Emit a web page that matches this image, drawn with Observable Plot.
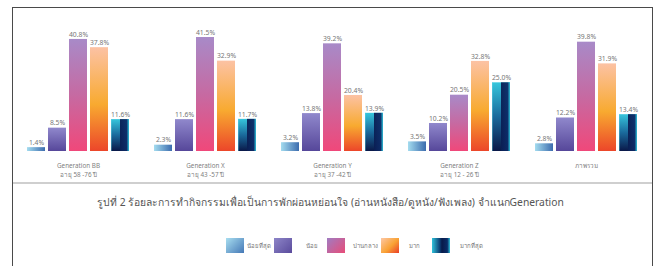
<!DOCTYPE html>
<html>
<head>
<meta charset="utf-8">
<script src="https://cdn.jsdelivr.net/npm/d3@7"></script>
<script src="https://cdn.jsdelivr.net/npm/@observablehq/plot@0.6"></script>
<style>
  html, body { margin: 0; padding: 0; background: #fff; }
  #wrap { position: relative; width: 661px; height: 266px; overflow: hidden; font-family: "Noto Sans", "Open Sans", sans-serif; }
  #frame { position: absolute; left: 12px; top: 7px; width: 641px; height: 270px; border: 1.5px solid #4a4a4a; box-sizing: border-box; }
  #sep { position: absolute; left: 13px; top: 182px; width: 639px; height: 2px; background: #cfcfcf; }
  #title { position: absolute; left: 0; width: 661px; top: 194px; text-align: center; font-size: 10.3px; color: #555; white-space: nowrap; }
  #legend { position: absolute; top: 238px; left: 0; width: 661px; height: 16px; }
  .sw { position: absolute; top: 0; width: 18px; height: 15px; }
  .lb { position: absolute; top: 3px; font-size: 6px; color: #777; white-space: nowrap; }
  #chart { position: absolute; left: 0; top: 0; }
</style>
</head>
<body>
<div id="wrap">
  <div id="chart"></div>
  <div id="frame"></div>
  <div id="sep"></div>
  <div id="title"></div>
  <div id="legend"></div>
</div>
<script>
// ---- data ----
const generations = ["Generation BB", "Generation X", "Generation Y", "Generation Z", "ภาพรวม"];
const ageLabels = ["อายุ 58 -76 ปี", "อายุ 43 -57 ปี", "อายุ 37 -42 ปี", "อายุ 12 - 26 ปี", ""];
const levels = ["น้อยที่สุด", "น้อย", "ปานกลาง", "มาก", "มากที่สุด"];
const leastVals = [1.4, 2.3, 3.2, 3.5, 2.8];
const lowVals = [8.5, 11.6, 13.8, 10.2, 12.2];
const midVals = [40.8, 41.5, 39.2, 20.5, 39.8];
const highVals = [37.8, 32.9, 20.4, 32.8, 31.9];
const mostVals = [11.6, 11.7, 13.9, 25.0, 13.4];
const titleText = "รูปที่ 2 ร้อยละการทำกิจกรรมเพื่อเป็นการพักผ่อนหย่อนใจ (อ่านหนังสือ/ดูหนัง/ฟังเพลง) จำแนกGeneration";

const seriesVals = [leastVals, lowVals, midVals, highVals, mostVals];
const rows = [];
generations.forEach((g, gi) => {
  levels.forEach((l, li) => rows.push({gen: g, level: l, li, value: seriesVals[li][gi]}));
});
const catRows = generations.map((g, i) => ({gen: g, label: ageLabels[i] ? g + "\n" + ageLabels[i] : g}));

// gradient definitions
const gradIds = ["g0", "g1", "g2", "g3", "g4"];
function defs() {
  const d = d3.create("svg:defs");
  const lin = (id, x2, y2, stops) => {
    const g = d.append("linearGradient").attr("id", id).attr("x1", 0).attr("y1", 0).attr("x2", x2).attr("y2", y2);
    stops.forEach(([o, c, a]) => g.append("stop").attr("offset", o).attr("stop-color", c).attr("stop-opacity", a == null ? 1 : a));
  };
  lin("g0", 1, 0, [[0, "#a4dcef"], [1, "#3c6cae"]]);
  lin("g1", 0, 1, [[0, "#9088cc"], [1, "#56479a"]]);
  lin("g2", 0, 1, [[0, "#a88ac8"], [0.5, "#c66aa2"], [1, "#f0487a"]]);
  lin("g3", 0, 1, [[0, "#fcc2a4"], [0.55, "#f8aa30"], [1, "#ec462a"]]);
  lin("g4", 0, 1, [[0, "#36c6dc"], [0.5, "#1a6a9c"], [1, "#0a1848"]]);
  lin("g4b", 1, 0, [[0, "#7fe0ee", 0.6], [0.08, "#36c6dc", 0], [0.5, "#0a1f55", 0], [0.52, "#0a1f55", 0.95], [0.86, "#0d2a66", 0.95], [1, "#2ec2da", 1]]);
  return d.node();
}

const chart = Plot.plot({
  width: 661,
  height: 183,
  marginLeft: 23,
  marginRight: 20,
  marginTop: 27.4,
  marginBottom: 32,
  fx: {domain: generations, padding: 0.134, paddingOuter: 0, axis: null},
  x: {domain: levels, padding: 0.14, axis: null},
  y: {domain: [0, 45], axis: null},
  style: {fontFamily: "'Noto Sans', 'Open Sans', sans-serif", background: "transparent"},
  marks: [
    defs,
    Plot.barY(rows, {fx: "gen", x: "level", y: "value", fill: d => `url(#${gradIds[d.li]})`}),
    Plot.barY(rows.filter(d => d.li === 4), {fx: "gen", x: "level", y: "value", fill: "url(#g4b)"}),
    Plot.text(rows, {fx: "gen", x: "level", y: "value", text: d => d.value.toFixed(1) + "%", dy: -5, fontSize: 6.8, fill: "#777"}),
    Plot.text(catRows, {fx: "gen", text: "label", frameAnchor: "bottom", lineAnchor: "top", dy: 10, lineHeight: 1.45, fontSize: 6.3, fill: "#808080"})
  ]
});
document.getElementById("chart").appendChild(chart);

document.getElementById("title").textContent = titleText;

// legend
const legendSwatchX = [226, 274, 327, 381, 432];
const legendLabelX = [247, 306, 353, 409, 460];
const cssGrad = [
  "linear-gradient(135deg, #a8def0, #4578b6)",
  "linear-gradient(135deg, #8d85c8, #5a4b9c)",
  "linear-gradient(135deg, #a07cc2, #e84c78)",
  "linear-gradient(135deg, #fdc8a6, #f9a234 55%, #ea3e28)",
  "linear-gradient(90deg, #2ec2da, #0c3a70 45%, #081a4a 55%, #0b2c66 85%, #2ec2da)"
];
const leg = document.getElementById("legend");
levels.forEach((l, i) => {
  const s = document.createElement("div");
  s.className = "sw"; s.style.left = legendSwatchX[i] + "px"; s.style.background = cssGrad[i];
  leg.appendChild(s);
  const t = document.createElement("div");
  t.className = "lb"; t.style.left = legendLabelX[i] + "px"; t.textContent = l;
  leg.appendChild(t);
});
</script>
</body>
</html>
